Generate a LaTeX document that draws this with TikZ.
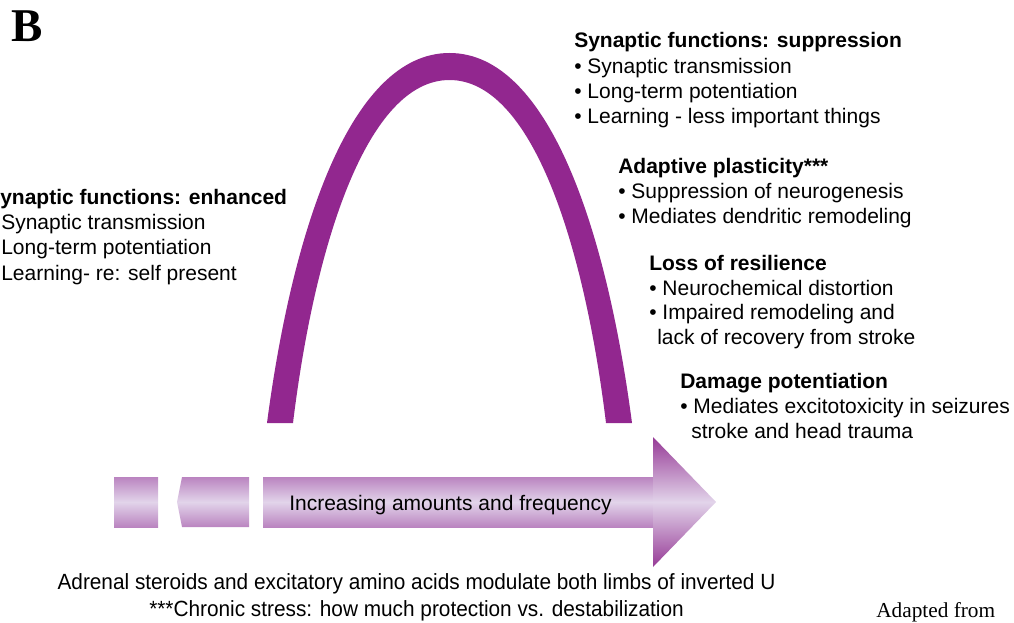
\documentclass[tikz,border=0pt]{standalone}
\usepackage{fontspec}
\setmainfont{Liberation Sans}
\newfontfamily\timesfont{Liberation Serif}
\newfontfamily\narrowfont[FakeStretch=0.945]{Liberation Sans}
\usepackage{tikz}
\definecolor{archpurple}{RGB}{146,39,143}
\definecolor{shaftedge}{RGB}{186,132,192}
\definecolor{shaftmid}{RGB}{226,212,234}
\definecolor{headedge}{RGB}{150,58,150}

\begin{document}
\begin{tikzpicture}[x=0.025cm,y=-0.025cm]
\tikzset{txt/.style = {anchor=base west,inner sep=0pt,font=\fontsize{14.94}{17.8}\selectfont}}
\tikzset{heading/.style = {txt,font=\fontsize{14.94}{17.8}\selectfont\bfseries}}
\tikzset{notetext/.style = {anchor=base,inner sep=0pt,font=\narrowfont\fontsize{15.65}{18}\selectfont}}
\tikzset{shaft/.style = {top color=shaftedge,bottom color=shaftedge,middle color=shaftmid}}
\useasboundingbox (0,0) rectangle (1014,623);
% inverted U
\fill[archpurple] (267,423) .. controls (292,233) and (349.5,53) .. (449.5,53)
  .. controls (549.5,53) and (607,233) .. (632,423) -- (606,423)
  .. controls (584,243) and (531.5,80) .. (449.5,80)
  .. controls (367.5,80) and (315,243) .. (293,423) -- cycle;
% arrow
\shade[shaft] (114,477) rectangle (158,527);
\shade[shaft] (182,477) -- (249,477) -- (249,527) -- (182,527) -- (177,502) -- cycle;
\shade[shaft] (263,477) rectangle (654,527);
\shade[top color=headedge,bottom color=headedge,middle color=shaftmid]
  (653,437) -- (716,502) -- (653,567) -- cycle;
\node[txt] (amount) at (289,510) {Increasing amounts and frequency};
% panel letter
\node[anchor=base west,inner sep=0pt,font=\timesfont\fontsize{33.4}{36}\selectfont\bfseries] (panel) at (11,42) {B};
% left limb
\node[heading] (enh) at (0,205) {ynaptic functions: enhanced};
\node[txt] (enh1) at (1,230) {Synaptic transmission};
\node[txt] (enh2) at (1,255) {Long-term potentiation};
\node[txt] (enh3) at (1,280) {Learning- re: self present};
% right limb
\node[heading] (supp) at (574,48) {Synaptic functions: suppression};
\node[txt] (supp1) at (574,74) {• Synaptic transmission};
\node[txt] (supp2) at (574,99) {• Long-term potentiation};
\node[txt] (supp3) at (574,124) {• Learning - less important things};
\node[heading] (adapt) at (618,174) {Adaptive plasticity***};
\node[txt] (adapt1) at (618,199) {• Suppression of neurogenesis};
\node[txt] (adapt2) at (618,224) {• Mediates dendritic remodeling};
\node[heading] (loss) at (649,270) {Loss of resilience};
\node[txt] (loss1) at (649,295) {• Neurochemical distortion};
\node[txt] (loss2) at (649,320) {• Impaired remodeling and};
\node[txt] (loss3) at (657,345) {lack of recovery from stroke};
\node[heading] (damage) at (680,388) {Damage potentiation};
\node[txt] (damage1) at (680,413) {• Mediates excitotoxicity in seizures};
\node[txt] (damage2) at (691,438) {stroke and head trauma};
% notes
\node[notetext] (note1) at (416.5,589) {Adrenal steroids and excitatory amino acids modulate both limbs of inverted U};
\node[notetext] (note2) at (416.5,616) {***Chronic stress: how much protection vs. destabilization};
\node[anchor=base west,inner sep=0pt,font=\timesfont\fontsize{15.15}{17}\selectfont] (credit) at (876,617) {Adapted from};
\end{tikzpicture}
\end{document}
